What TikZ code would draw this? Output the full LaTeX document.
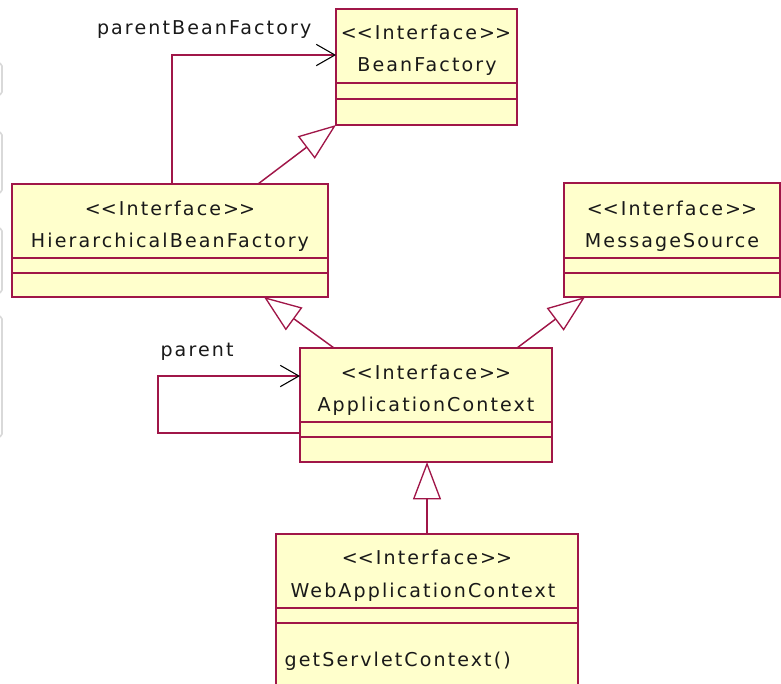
\documentclass[tikz,border=0pt]{standalone}
\usepackage{fontspec}
\setmainfont{DejaVu Sans}[LetterSpace=11]
\usetikzlibrary{arrows.meta}

\definecolor{umlred}{RGB}{160,22,72}
\definecolor{umlfill}{RGB}{255,255,204}
\newcommand{\stereo}{<\kern0pt<Interface>\kern0pt>}

\begin{document}
\begin{tikzpicture}[x=0.75pt, y=-0.75pt,
    every node/.style={font=\fontsize{14.3}{17}\selectfont, text=black!90},
    cls/.style={draw=umlred, fill=umlfill, line width=1.1pt, rectangle, anchor=north west, inner sep=0pt, outer sep=0pt},
    sep/.style={draw=umlred, line width=1.1pt},
    gen/.style={draw=umlred, line width=1.1pt, -{Triangle[open, length=28pt, width=21pt, line width=1pt]}},
    assoc/.style={draw=umlred, line width=1.1pt, -{Straight Barb[length=14pt, width=16pt, black, line width=0.8pt]}},
    edge/.style={draw=black!15, line width=1.2pt}]

    \useasboundingbox (0,0) rectangle (781,683);
    \clip (0,0) rectangle (781,683);

    % Window edges on the left
    \draw[edge] (0,63) -- (2,66) -- (2,92) -- (0,95);
    \draw[edge] (0,132) -- (2,135) -- (2,190) -- (0,193);
    \draw[edge] (0,228) -- (2,231) -- (2,290) -- (0,293);
    \draw[edge] (0,316) -- (2,319) -- (2,434) -- (0,437);

    % BeanFactory
    \node[cls, minimum width=181*0.75pt, minimum height=116*0.75pt] (bf) at (336,9) {};
    \draw[sep] (bf.west |- 0,83) -- (bf.east |- 0,83);
    \draw[sep] (bf.west |- 0,99) -- (bf.east |- 0,99);
    \node (bf-st) at (426,32) {\stereo};
    \node (bf-nm) at (427,67) {BeanFactory};

    % HierarchicalBeanFactory
    \node[cls, minimum width=316*0.75pt, minimum height=113*0.75pt] (hbf) at (12,184) {};
    \draw[sep] (hbf.west |- 0,258) -- (hbf.east |- 0,258);
    \draw[sep] (hbf.west |- 0,273) -- (hbf.east |- 0,273);
    \node (hbf-st) at (170,208) {\stereo};
    \node (hbf-nm) at (170,242) {HierarchicalBeanFactory};

    % MessageSource
    \node[cls, minimum width=216*0.75pt, minimum height=114*0.75pt] (ms) at (564,183) {};
    \draw[sep] (ms.west |- 0,258) -- (ms.east |- 0,258);
    \draw[sep] (ms.west |- 0,273) -- (ms.east |- 0,273);
    \node (ms-st) at (672,208) {\stereo};
    \node (ms-nm) at (672,242) {MessageSource};

    % ApplicationContext
    \node[cls, minimum width=252*0.75pt, minimum height=114*0.75pt] (ac) at (300,348) {};
    \draw[sep] (ac.west |- 0,422) -- (ac.east |- 0,422);
    \draw[sep] (ac.west |- 0,437) -- (ac.east |- 0,437);
    \node (ac-st) at (426,372) {\stereo};
    \node (ac-nm) at (426,406) {ApplicationContext};

    % WebApplicationContext
    \node[cls, minimum width=302*0.75pt, minimum height=170*0.75pt] (wac) at (276,534) {};
    \draw[sep] (wac.west |- 0,608) -- (wac.east |- 0,608);
    \draw[sep] (wac.west |- 0,623) -- (wac.east |- 0,623);
    \node (wac-st) at (427,557) {\stereo};
    \node (wac-nm) at (423,592) {WebApplicationContext};
    \node[anchor=west] (wac-op) at (280,661) {getServletContext()};

    % Associations
    \draw[assoc] (hbf.north -| 172,0) |- (bf.west |- 0,55);
    \node[anchor=east] (pbf) at (316,30) {parentBeanFactory};
    \draw[assoc] (ac.west |- 0,433) -- (158,433) |- (ac.west |- 0,376);
    \node (par) at (197,352) {parent};

    % Generalizations
    \draw[gen] (hbf.north -| 258,0) -- (bf.south west);
    \draw[gen] (ac.north -| 334,0) -- (hbf.south -| 264,0);
    \draw[gen] (ac.north -| 517,0) -- (ms.south -| 585,0);
    \draw[gen] (wac.north) -- (ac.south -| wac.north);
\end{tikzpicture}
\end{document}
